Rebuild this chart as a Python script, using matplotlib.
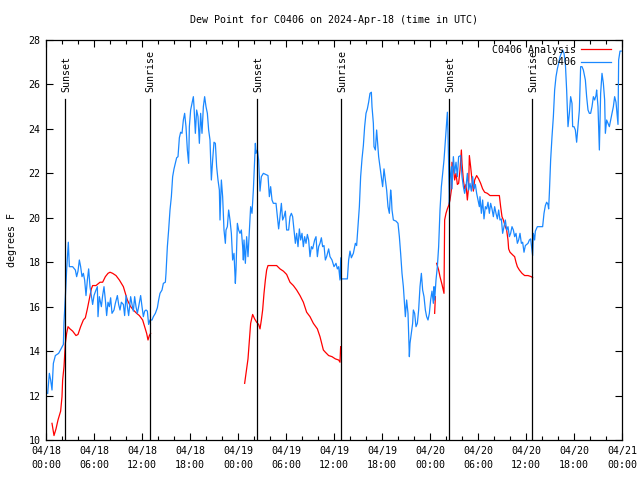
import numpy as np
import matplotlib
matplotlib.use("Agg")
import matplotlib.pyplot as plt
from matplotlib.ticker import MultipleLocator

plt.rcParams['font.family'] = ['DejaVu Sans Mono']

title = "Dew Point for C0406 on 2024-Apr-18 (time in UTC)"
ylabel = "degrees F"

# hours since 2024-04-18 00:00 UTC
obs_hours = [
    0.21, 0.42, 0.58, 0.75, 0.92, 1.17, 1.58, 1.88, 2.17, 2.25, 2.42, 2.58, 2.79, 2.92,
    3.33, 3.67, 3.83, 4.0, 4.17, 4.33, 4.5, 4.67, 4.83, 5.0, 5.17, 5.33, 5.5, 5.67, 5.83,
    6.0, 6.25, 6.42, 6.5, 6.67, 6.92, 7.08, 7.25, 7.42, 7.58, 7.75, 7.92, 8.08, 8.25, 8.5,
    8.67, 8.92, 9.08, 9.25, 9.42, 9.67, 9.83, 10.0, 10.17, 10.33, 10.58, 10.75, 10.92,
    11.08, 11.25, 11.42, 11.58, 11.83, 12.0, 12.17, 12.33, 12.5, 12.67, 12.83, 13.0,
    13.25, 13.42, 13.67, 13.92, 14.08, 14.25, 14.5, 14.67, 14.92, 15.0, 15.17, 15.33,
    15.5, 15.67, 15.83, 16.0, 16.17, 16.33, 16.5, 16.67, 16.83, 17.0, 17.17, 17.33, 17.5,
    17.67, 17.83, 17.92, 18.08, 18.25, 18.42, 18.5, 18.67, 18.83, 19.0, 19.17, 19.33,
    19.5, 19.67, 19.83, 20.0, 20.17, 20.33, 20.5, 20.67, 20.83, 21.0, 21.17, 21.33, 21.5,
    21.67, 21.75, 21.92, 22.08, 22.25, 22.42, 22.5, 22.67, 22.83, 23.0, 23.17, 23.33,
    23.5, 23.67, 23.75, 23.92, 24.08, 24.25, 24.42, 24.58, 24.67, 24.75, 24.92, 25.08,
    25.25, 25.42, 25.58, 25.75, 25.92, 26.08, 26.17, 26.25, 26.42, 26.58, 26.75, 26.92,
    27.17, 27.75, 27.92, 28.08, 28.25, 28.42, 28.75, 28.92, 29.08, 29.25, 29.42, 29.58,
    29.75, 29.92, 30.08, 30.33, 30.5, 30.67, 30.83, 31.0, 31.17, 31.33, 31.5, 31.67,
    31.83, 32.0, 32.17, 32.33, 32.5, 32.67, 32.83, 33.0, 33.17, 33.33, 33.58, 33.75,
    33.92, 34.08, 34.25, 34.42, 34.58, 34.75, 34.92, 35.08, 35.33, 35.5, 35.75, 36.0,
    36.25, 36.42, 36.58, 36.75, 36.85, 36.92, 37.67, 37.83, 38.0, 38.17, 38.42, 38.67,
    38.83, 39.0, 39.17, 39.33, 39.5, 39.67, 39.83, 40.0, 40.17, 40.33, 40.5, 40.67,
    40.75, 40.92, 41.0, 41.17, 41.33, 41.42, 41.58, 41.75, 41.92, 42.08, 42.25, 42.42,
    42.58, 42.75, 42.92, 43.08, 43.17, 43.25, 43.42, 43.75, 44.0, 44.17, 44.33, 44.5,
    44.67, 44.83, 44.92, 45.08, 45.25, 45.33, 45.42, 45.5, 45.67, 45.83, 45.92, 46.08,
    46.25, 46.42, 46.58, 46.75, 46.92, 47.08, 47.25, 47.42, 47.58, 47.75, 47.92, 48.08,
    48.25, 48.42, 48.5, 48.58, 48.75, 48.92, 49.08, 49.25, 49.42, 49.58, 49.75, 49.92,
    50.08, 50.17, 50.25, 50.33, 50.42, 50.5, 50.67, 50.75, 50.92, 51.08, 51.25, 51.42,
    51.58, 51.83, 52.0, 52.17, 52.33, 52.5, 52.67, 52.83, 53.0, 53.17, 53.33, 53.5,
    53.67, 53.83, 54.0, 54.17, 54.25, 54.42, 54.58, 54.75, 54.92, 55.08, 55.25, 55.42,
    55.58, 55.75, 55.92, 56.08, 56.25, 56.42, 56.58, 56.75, 56.92, 57.08, 57.25, 57.42,
    57.58, 57.75, 57.92, 58.08, 58.25, 58.42, 58.58, 58.75, 58.92, 59.08, 59.25, 59.42,
    59.58, 59.75, 59.92, 60.08, 60.25, 60.42, 60.58, 60.75, 60.83, 60.92, 61.08, 61.17,
    61.42, 61.67, 62.08, 62.25, 62.42, 62.58, 62.75, 62.83, 62.92, 63.08, 63.25, 63.42,
    63.58, 63.75, 63.92, 64.08, 64.25, 64.42, 64.58, 64.75, 64.92, 65.08, 65.25, 65.42,
    65.58, 65.75, 65.83, 66.0, 66.17, 66.33, 66.5, 66.67, 66.83, 67.0, 67.17, 67.42,
    67.58, 67.75, 67.92, 68.08, 68.25, 68.42, 68.58, 68.75, 68.83, 69.0, 69.17, 69.33,
    69.5, 69.67, 69.83, 69.92, 70.08, 70.25, 70.42, 70.58, 70.75, 70.92, 71.08, 71.25,
    71.42, 71.5, 71.58, 71.75, 71.9,
]
obs_dewpt = [
    12.1, 13.0, 12.7, 12.25, 13.45, 13.8, 13.9, 14.1, 14.3, 15.3, 16.45, 17.65, 18.9, 17.8,
    17.8, 17.65, 17.35, 17.6, 18.1, 17.8, 17.35, 17.5, 17.2, 16.5, 17.2, 17.7, 16.9, 16.5, 16.1,
    16.5, 16.75, 16.9, 15.55, 16.45, 16.0, 16.5, 16.9, 16.3, 15.6, 16.2, 16.0, 16.4, 15.7, 15.85,
    16.15, 16.5, 16.1, 15.85, 16.2, 16.1, 15.6, 16.5, 16.0, 15.6, 16.45, 16.1, 15.8,
    16.45, 16.0, 15.7, 16.0, 16.5, 16.0, 15.55, 15.8, 15.85, 15.8, 15.2, 15.4,
    15.4, 15.55, 15.7, 15.95, 16.3, 16.6, 16.75, 17.05, 17.1, 17.5, 18.7, 19.45,
    20.35, 20.95, 21.85, 22.2, 22.45, 22.7, 22.75, 23.6, 23.85, 23.8, 24.4, 24.7, 24.1,
    23.05, 22.45, 24.1, 24.85, 25.15, 25.45, 25.0, 23.8, 24.85, 24.55, 23.35, 24.7,
    23.8, 25.0, 25.45, 25.0, 24.7, 23.95, 23.5, 21.7, 22.6, 23.4, 23.35, 22.3, 21.7,
    21.25, 19.9, 21.7, 20.95, 19.45, 18.85, 19.45, 19.6, 20.35, 19.9, 19.3, 18.1,
    18.4, 17.05, 17.65, 19.75, 19.45, 19.3, 19.45, 18.7, 18.1, 19.0, 17.95, 19.15,
    18.25, 19.45, 20.5, 20.2, 21.25, 22.6, 23.35, 22.9, 23.05, 22.6, 21.2, 21.85,
    22.0, 21.9, 20.95, 21.4, 20.8, 20.65, 20.65, 20.05, 19.5, 20.05, 20.65, 19.9,
    20.05, 20.3, 19.45, 19.45, 20.05, 20.2, 20.05, 19.45, 18.85, 19.3, 18.7, 19.5,
    19.0, 19.3, 18.7, 19.15, 18.85, 19.25, 19.0, 18.25, 18.7, 18.6, 19.0, 19.15,
    18.25, 18.7, 18.85, 19.1, 18.7, 18.75, 18.1, 18.25, 18.6, 18.25, 18.1, 17.8,
    17.95, 17.7, 17.8, 17.2, 18.2, 17.25, 17.25, 18.1, 18.5, 18.2, 18.4, 18.85,
    18.75, 19.6, 20.5, 21.85, 22.65, 23.25, 24.1, 24.7, 24.9, 25.2, 25.6, 25.65,
    25.0, 24.25, 23.2, 23.05, 23.95, 23.5, 22.75, 22.3, 21.85, 21.4, 22.2, 21.7,
    21.25, 20.5, 20.2, 21.25, 20.95, 20.35, 19.9, 19.85, 19.75, 19.15, 18.4, 17.5,
    16.9, 16.0, 15.55, 16.3, 15.7, 14.8, 13.75, 14.35, 14.8, 15.25, 15.85, 15.7,
    15.1, 15.25, 15.85, 16.9, 17.5, 16.75, 16.45, 15.85, 15.55, 15.4, 15.7, 16.3,
    16.7, 16.15, 16.9, 16.3, 17.2, 17.8, 18.7, 20.35, 21.4, 22.0, 22.6, 23.5,
    24.4, 24.75, 23.8, 22.45, 20.6, 21.7, 22.3, 21.3, 22.75, 22.0, 22.5, 21.85,
    22.75, 22.8, 21.85, 21.4, 21.1, 21.4, 22.0, 21.25, 21.55, 21.2, 21.85, 21.3,
    21.5, 21.1, 20.8, 20.5, 20.95, 20.2, 20.8, 19.95, 20.5, 20.4, 20.7, 20.2,
    20.65, 20.4, 20.05, 20.5, 20.2, 19.95, 20.35, 19.9, 19.95, 19.3, 19.6, 19.9,
    19.45, 19.6, 19.15, 19.3, 19.6, 19.45, 19.15, 19.3, 18.85, 19.0, 19.3, 18.85,
    18.9, 18.45, 18.75, 18.8, 18.85, 19.0, 19.05, 18.55, 18.3, 19.3, 19.0, 19.4,
    19.6, 19.6, 19.6, 20.2, 20.55, 20.7, 20.6, 20.4, 21.1, 22.6, 23.65, 24.55,
    25.75, 26.35, 26.7, 26.95, 27.25, 27.4, 27.55, 27.4, 26.95, 25.75, 24.1, 24.7,
    25.45, 25.15, 24.1, 24.1, 23.95, 23.4, 24.1, 24.85, 26.8, 26.8, 26.65, 26.2,
    25.45, 24.85, 24.7, 24.7, 25.0, 25.45, 25.3, 25.5, 25.75, 25.0, 23.05, 25.6,
    26.5, 26.05, 25.3, 23.8, 24.4, 24.25, 24.1, 24.4, 24.7, 25.0, 25.45, 25.2,
    24.55, 24.2, 27.1, 27.5, 27.5,
]

nan = float('nan')
ana_hours = [
    0.75, 1.0, 1.25, 1.5, 1.83, 2.0, 2.08, 2.25, 2.42, 2.58, 2.75, 3.0, 3.33, 3.75, 4.0,
    4.33, 4.67, 4.92, 5.17, 5.42, 5.67, 5.83, 6.25, 6.75, 7.08, 7.42, 7.75, 8.0, 8.33,
    8.75, 9.17, 9.67, 9.92, 10.17, 10.58, 10.92, 11.33, 11.67, 12.08, 12.33, 12.58,
    12.75, 12.92, 13.08, 13.1,
    24.83, 25.0, 25.25, 25.42, 25.58, 25.83, 26.08, 26.33, 26.58, 26.75, 26.92, 27.08,
    27.25, 27.42, 27.58, 27.75, 28.42, 28.83, 29.25, 29.67, 30.08, 30.5, 30.92, 31.33,
    31.75, 32.17, 32.58, 33.0, 33.42, 33.92, 34.25, 34.67, 34.92, 35.33, 35.75, 36.17,
    36.58, 36.75, 36.83, 36.85,
    48.58, 48.67, 48.7,
    48.83, 49.08, 49.25, 49.5, 49.75, 49.83, 50.0, 50.17, 50.33, 50.5, 50.67, 50.75,
    50.92, 51.08, 51.25, 51.42, 51.58, 51.75, 51.92, 52.0, 52.17, 52.33, 52.5, 52.67,
    52.83, 52.92, 53.08, 53.25, 53.42, 53.58, 53.83, 54.08, 54.33, 54.58, 54.83, 55.17,
    55.5, 55.92, 56.33, 56.67, 56.83, 57.0, 57.17, 57.42, 57.58, 57.75, 57.83, 58.0,
    58.42, 58.58, 58.75, 58.92, 59.17, 59.5, 59.83, 60.25, 60.67, 60.83,
]
ana_dewpt = [
    10.75, 10.2, 10.5, 10.9, 11.3, 11.95, 12.7, 13.3, 14.35, 14.8, 15.1, 15.0, 14.9, 14.7, 14.75,
    15.1, 15.4, 15.5, 15.9, 16.35, 16.8, 16.95, 16.95, 17.1, 17.1, 17.35, 17.5, 17.55, 17.5,
    17.4, 17.2, 16.9, 16.6, 16.3, 16.0, 15.85, 15.7, 15.6, 15.4, 15.1, 14.8,
    14.5, 14.7, 14.8, nan,
    12.55, 13.0, 13.65, 14.5, 15.25, 15.65, 15.45, 15.3, 15.2, 15.0, 15.4, 15.85,
    16.6, 17.2, 17.65, 17.85, 17.85, 17.85, 17.7, 17.6, 17.45, 17.1, 16.95, 16.75,
    16.5, 16.2, 15.75, 15.55, 15.25, 15.0, 14.65, 14.05, 13.95, 13.8, 13.75, 13.65,
    13.6, 13.5, 14.2, nan,
    15.7, 16.45, nan,
    17.95, 17.65, 17.35, 17.0, 16.6, 19.9, 20.2, 20.4, 20.55, 20.8, 21.25, 22.5,
    22.3, 21.7, 22.0, 21.5, 21.55, 22.15, 23.05, 22.45, 21.7, 21.3, 21.5, 20.8,
    21.4, 22.8, 22.3, 21.7, 21.2, 21.7, 21.9, 21.75, 21.55, 21.3, 21.15, 21.1,
    21.0, 21.0, 21.0, 21.0, 20.5, 20.05, 19.9, 19.6, 19.45, 19.0, 18.6, 18.45,
    18.3, 18.25, 18.0, 17.8, 17.65, 17.5, 17.4, 17.4, 17.35, 17.3,
]

sun_labels = ["Sunset", "Sunrise", "Sunset", "Sunrise", "Sunset", "Sunrise"]
sun_hours = [2.42, 12.95, 26.42, 36.9, 50.42, 60.8]

xtick_hours = [0, 6, 12, 18, 24, 30, 36, 42, 48, 54, 60, 66, 72]
xtick_labels = ["04/18\n00:00", "04/18\n06:00", "04/18\n12:00", "04/18\n18:00",
                "04/19\n00:00", "04/19\n06:00", "04/19\n12:00", "04/19\n18:00",
                "04/20\n00:00", "04/20\n06:00", "04/20\n12:00", "04/20\n18:00",
                "04/21\n00:00"]
yticks = [10, 12, 14, 16, 18, 20, 22, 24, 26, 28]

fig = plt.figure(figsize=(6.4, 4.8), dpi=100)
ax = fig.add_axes([46/640, 40/480, 576/640, 400/480])
fs = 7.2

ax.plot(ana_hours, ana_dewpt, color='#ff0000', lw=0.9, label='C0406 Analysis')
ax.plot(obs_hours, obs_dewpt, color='#1a88ff', lw=0.9, label='C0406')

line_top = 25.35
for h, lab in zip(sun_hours, sun_labels):
    ax.plot([h, h], [10, line_top], color='black', lw=0.9)
    ax.text(h + 0.1, line_top + 0.3, lab, rotation=90, ha='center', va='bottom',
            fontsize=fs)

ax.set_xlim(0, 72)
ax.set_ylim(10, 28)
ax.set_xticks(xtick_hours)
ax.set_xticklabels(xtick_labels, fontsize=fs, linespacing=1.6)
ax.xaxis.set_minor_locator(MultipleLocator(2))
ax.set_yticks(yticks)
ax.set_yticklabels([str(v) for v in yticks], fontsize=fs)
ax.tick_params(axis='both', which='both', direction='in', top=True, right=True)
ax.tick_params(axis='both', which='major', length=5, width=0.8, pad=4)
ax.tick_params(axis='both', which='minor', length=3, width=0.8)
for s in ax.spines.values():
    s.set_linewidth(0.9)

ax.set_title(title, fontsize=fs, pad=12)
ax.set_ylabel(ylabel, fontsize=fs, labelpad=8)

leg = ax.legend(loc='upper right', bbox_to_anchor=(1.0, 1.016), frameon=False,
                fontsize=fs, markerfirst=False,
                handlelength=3.0, handletextpad=0.5, borderaxespad=0.9,
                borderpad=0.2, labelspacing=0.25)
for t in leg.get_texts():
    t.set_ha('right')

fig.savefig('out.png', dpi=100)
